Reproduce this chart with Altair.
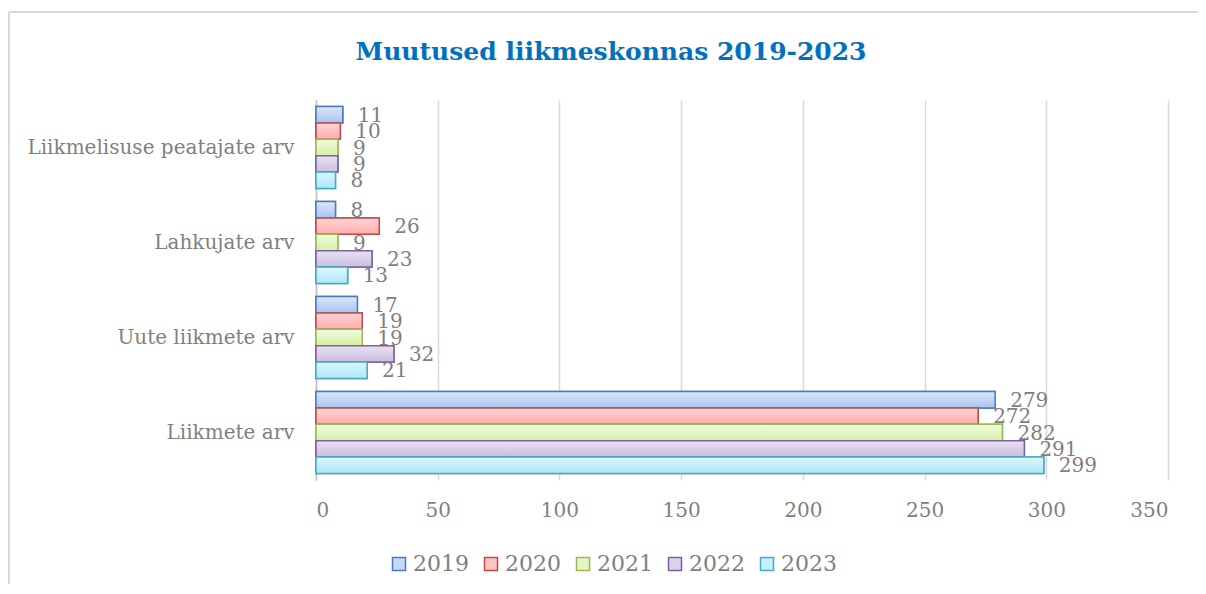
import altair as alt
import pandas as pd

categories = ["Liikmelisuse peatajate arv", "Lahkujate arv", "Uute liikmete arv", "Liikmete arv"]
years = ["2019", "2020", "2021", "2022", "2023"]
v2019 = [11, 8, 17, 279]
v2020 = [10, 26, 19, 272]
v2021 = [9, 9, 19, 282]
v2022 = [9, 23, 32, 291]
v2023 = [8, 13, 21, 299]
title_text = "Muutused liikmeskonnas 2019-2023"

fills = ["#c6d8f6", "#ffc3c3", "#e5f6c6", "#dcd2ea", "#c6eff9"]
fills_top = ["#dce7fb", "#ffd6d6", "#effbdc", "#e8e1f1", "#dcf6fc"]
fills_bot = ["#a9c3ee", "#ffabab", "#d5f0a8", "#cbbde0", "#aee7f6"]
strokes = ["#4a7ebb", "#be4b48", "#98b954", "#7d60a0", "#46aac5"]

series = [v2019, v2020, v2021, v2022, v2023]
rows = []
for y, vals in zip(years, series):
    for c, v in zip(categories, vals):
        rows.append({"cat": c, "year": y, "value": v})
df = pd.DataFrame(rows)

FONT = "DejaVu Serif"
GRAY = "#7f7f7f"
W, H = 852, 380
PL, PT = 308, 92

yenc = alt.Y("cat:N", sort=categories, title=None,
             scale=alt.Scale(paddingInner=0.137, paddingOuter=0.0685),
             axis=alt.Axis(ticks=False, domain=True, domainColor="#bfbfbf", domainWidth=1.5,
                           labelFont=FONT, labelFontSize=20, labelColor=GRAY,
                           labelPadding=22, labelLimit=400))
yoff = alt.YOffset("year:N", sort=years, scale=alt.Scale(paddingInner=0, paddingOuter=0))
xenc = alt.X("value:Q", title=None,
             scale=alt.Scale(domain=[0, 350], nice=False),
             axis=alt.Axis(values=list(range(0, 351, 50)), ticks=False, domain=False,
                           grid=True, gridColor="#d9d9d9", gridWidth=1.5,
                           labelFont=FONT, labelFontSize=20, labelColor=GRAY, labelPadding=20))

legend = alt.Legend(title=None, orient="none", legendX=72, legendY=453,
                    direction="horizontal", symbolType="square",
                    symbolSize=169, symbolStrokeWidth=1.5,
                    labelFont=FONT, labelFontSize=22, labelColor=GRAY,
                    labelOffset=3, columnPadding=11)

bars = alt.Chart(df).mark_bar(strokeWidth=1.5).encode(
    x=xenc, y=yenc, yOffset=yoff,
    fill=alt.Fill("year:N", sort=years, scale=alt.Scale(domain=years, range=fills), legend=legend),
    stroke=alt.Stroke("year:N", sort=years, scale=alt.Scale(domain=years, range=strokes), legend=legend),
)

# gradient overlays, one per year
grad_layers = []
for yr, ct, cb, cs in zip(years, fills_top, fills_bot, strokes):
    grad = alt.LinearGradient(gradient="linear",
                              stops=[alt.GradientStop(color=ct, offset=0),
                                     alt.GradientStop(color=cb, offset=1)],
                              x1=0, x2=0, y1=0, y2=1)
    grad_layers.append(
        alt.Chart(df).transform_filter(alt.datum.year == yr).mark_bar(strokeWidth=1.5).encode(
            x=alt.X("value:Q"), y=alt.Y("cat:N", sort=categories), yOffset=yoff,
            fill=alt.value(grad), stroke=alt.value(cs))
    )

labels = alt.Chart(df).mark_text(align="left", baseline="middle", dx=15, dy=1,
                                 font=FONT, fontSize=20, color=GRAY).encode(
    x=alt.X("value:Q"), y=alt.Y("cat:N", sort=categories), yOffset=yoff,
    text="value:Q")

one = pd.DataFrame({"t": [title_text]})
title = alt.Chart(one).mark_text(align="center", baseline="alphabetic", font=FONT, fontSize=25,
                                 fontWeight="bold", color="#0070c0").encode(
    x=alt.value(611 - 316), y=alt.value(60 - 100), text="t:N")

frame_left = alt.Chart(one).mark_rule(color="#d9d9d9", strokeWidth=2).encode(
    x=alt.value(-307), y=alt.value(-88), y2=alt.value(H + 200))
frame_top = alt.Chart(one).mark_rule(color="#d9d9d9", strokeWidth=2).encode(
    x=alt.value(-307), x2=alt.value(W + 200), y=alt.value(-88))

chart = alt.layer(frame_left, frame_top, title, bars, *grad_layers, labels).properties(
    width=W, height=H,
    autosize=alt.AutoSizeParams(type="none"),
    padding={"left": PL, "top": PT, "right": 30, "bottom": 104},
).configure_view(stroke=None).configure_legend(padding=0)

chart.save("out.html", embed_options={"renderer": "svg", "actions": False})
